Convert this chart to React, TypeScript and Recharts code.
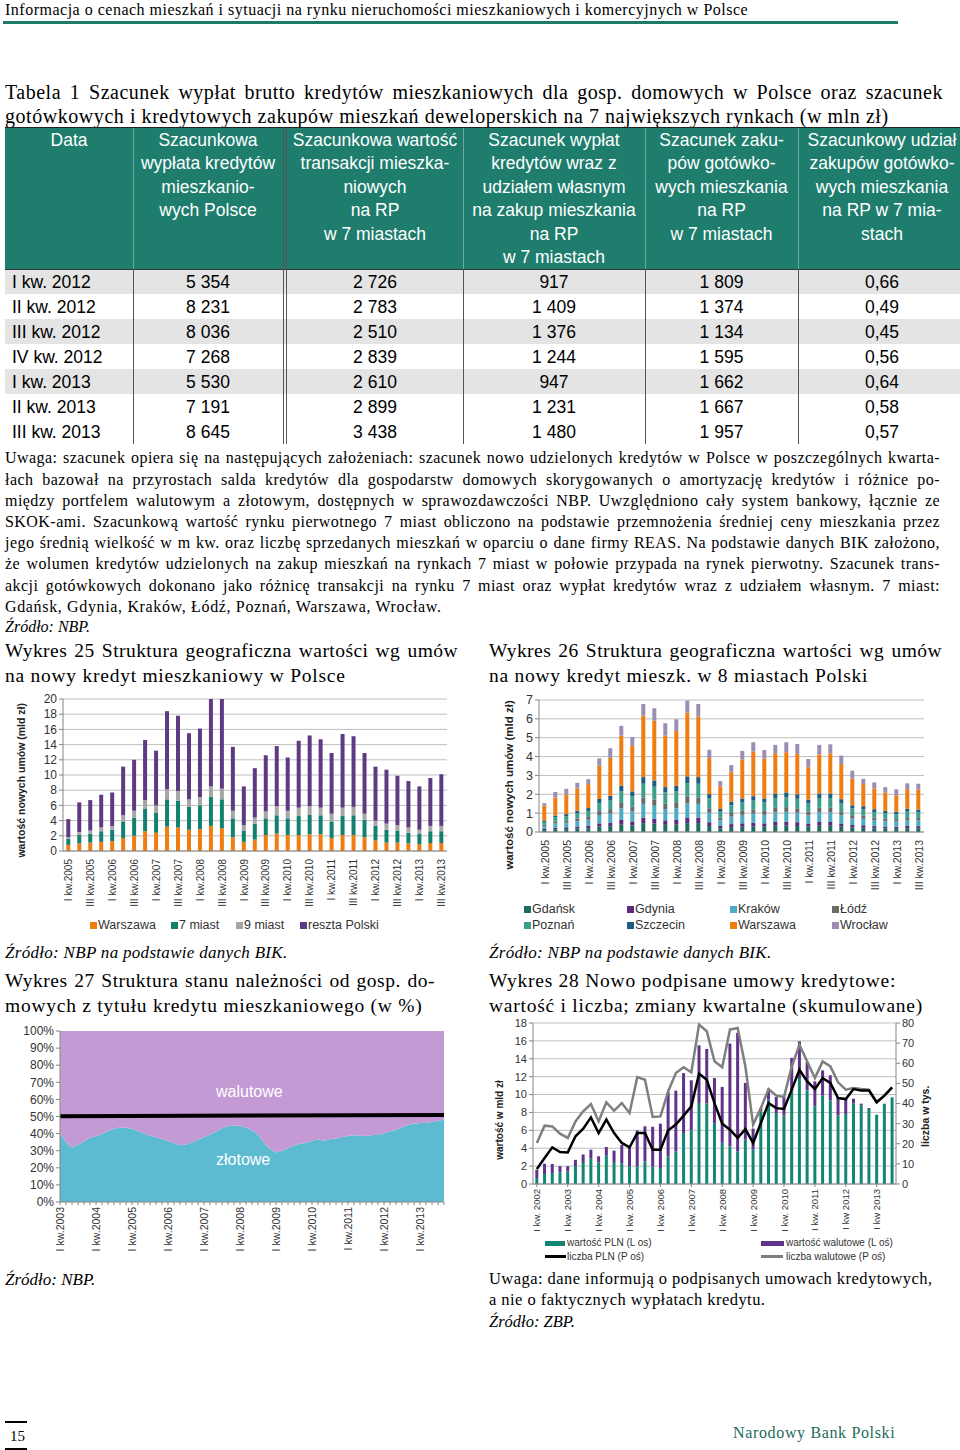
import React from "react"
import {
  BarChart,
  Bar,
  ComposedChart,
  Area,
  Line,
  XAxis,
  YAxis,
  CartesianGrid,
} from "recharts"

const SANS = "'Liberation Sans', Arial, sans-serif"
const NARROW = "'Liberation Sans Narrow', 'Liberation Sans', Arial, sans-serif"
const SERIF = "'Liberation Serif', 'Times New Roman', serif"
const OS = "#868686"
const SIATKA = "#BFBFBF"

// ---------- Tabela 1 ----------
const tabelaOkresy = ["I kw. 2012", "II kw. 2012", "III kw. 2012", "IV kw. 2012", "I kw. 2013", "II kw. 2013", "III kw. 2013"]
const wyplataPolska = ["5 354", "8 231", "8 036", "7 268", "5 530", "7 191", "8 645"]
const wartoscRP = ["2 726", "2 783", "2 510", "2 839", "2 610", "2 899", "3 438"]
const wyplataRP = ["917", "1 409", "1 376", "1 244", "947", "1 231", "1 480"]
const gotowkaRP = ["1 809", "1 374", "1 134", "1 595", "1 662", "1 667", "1 957"]
const udzialGotowki = ["0,66", "0,49", "0,45", "0,56", "0,64", "0,58", "0,57"]

// ---------- Wykres 25 (mld zł, I kw.2005 - III kw.2013) ----------
const warszawa25 = [0.8, 1.0, 1.1, 1.2, 1.3, 1.7, 2.0, 2.6, 2.4, 3.2, 3.1, 2.8, 2.9, 3.3, 3.0, 1.8, 1.2, 1.5, 2.1, 2.3, 2.1, 2.1, 2.2, 2.2, 1.7, 2.1, 2.1, 1.8, 1.4, 1.1, 1.1, 1.0, 0.9, 1.05, 1.05]
const siedemMiast25 = [0.8, 1.1, 1.2, 1.4, 1.5, 2.2, 2.4, 3.0, 2.6, 3.6, 3.5, 3.0, 3.1, 3.8, 3.8, 2.5, 1.5, 2.1, 2.2, 2.4, 2.2, 2.5, 2.6, 2.5, 2.2, 2.5, 2.6, 2.3, 1.9, 1.7, 1.6, 1.4, 1.4, 1.55, 1.55]
const dziewiecMiast25 = [0.2, 0.4, 0.4, 0.5, 0.5, 0.8, 0.9, 1.1, 1.0, 1.3, 1.3, 1.0, 1.1, 1.4, 1.4, 1.0, 0.7, 0.8, 0.9, 1.2, 1.0, 1.1, 1.1, 1.0, 1.0, 1.1, 1.1, 0.8, 0.7, 0.8, 0.7, 0.7, 0.5, 0.7, 0.7]
const resztaPolski25 = [2.4, 3.9, 4.0, 4.3, 4.4, 6.4, 6.7, 7.9, 7.2, 10.3, 9.9, 8.7, 9.0, 13.0, 13.3, 8.4, 5.1, 6.5, 7.4, 7.9, 7.0, 8.8, 9.3, 9.0, 8.0, 9.7, 9.3, 8.0, 7.1, 7.1, 6.5, 6.1, 5.7, 6.3, 6.8]
const osY25 = [0, 2, 4, 6, 8, 10, 12, 14, 16, 18, 20]

// ---------- Wykres 26 (mld zł, 8 miast) ----------
const gdansk26 = [0.10, 0.14, 0.15, 0.18, 0.20, 0.28, 0.31, 0.39, 0.34, 0.47, 0.44, 0.38, 0.39, 0.47, 0.47, 0.32, 0.20, 0.26, 0.28, 0.30, 0.28, 0.33, 0.34, 0.32, 0.28, 0.33, 0.33, 0.28, 0.23, 0.22, 0.19, 0.18, 0.17, 0.20, 0.19]
const gdynia26 = [0.06, 0.09, 0.10, 0.11, 0.13, 0.18, 0.19, 0.25, 0.22, 0.29, 0.27, 0.24, 0.25, 0.30, 0.29, 0.20, 0.12, 0.16, 0.18, 0.19, 0.18, 0.20, 0.21, 0.20, 0.17, 0.20, 0.20, 0.17, 0.14, 0.14, 0.12, 0.11, 0.11, 0.12, 0.12]
const krakow26 = [0.15, 0.22, 0.24, 0.28, 0.32, 0.44, 0.48, 0.61, 0.54, 0.73, 0.68, 0.60, 0.61, 0.74, 0.73, 0.50, 0.30, 0.40, 0.45, 0.48, 0.45, 0.51, 0.52, 0.50, 0.43, 0.51, 0.51, 0.44, 0.35, 0.34, 0.30, 0.28, 0.27, 0.31, 0.30]
const lodz26 = [0.07, 0.11, 0.11, 0.14, 0.15, 0.21, 0.23, 0.29, 0.26, 0.35, 0.33, 0.28, 0.29, 0.35, 0.35, 0.24, 0.15, 0.19, 0.21, 0.23, 0.21, 0.24, 0.25, 0.24, 0.21, 0.24, 0.24, 0.21, 0.17, 0.16, 0.15, 0.13, 0.13, 0.15, 0.14]
const poznan26 = [0.15, 0.22, 0.24, 0.28, 0.32, 0.43, 0.48, 0.62, 0.53, 0.72, 0.68, 0.60, 0.62, 0.74, 0.72, 0.51, 0.31, 0.40, 0.45, 0.47, 0.45, 0.52, 0.53, 0.50, 0.42, 0.52, 0.52, 0.43, 0.36, 0.35, 0.30, 0.29, 0.26, 0.30, 0.30]
const szczecin26 = [0.07, 0.10, 0.11, 0.14, 0.15, 0.21, 0.23, 0.29, 0.26, 0.35, 0.33, 0.28, 0.29, 0.35, 0.35, 0.24, 0.14, 0.19, 0.21, 0.23, 0.21, 0.24, 0.25, 0.24, 0.21, 0.24, 0.24, 0.21, 0.17, 0.16, 0.15, 0.13, 0.13, 0.15, 0.14]
const warszawa26 = [0.80, 0.95, 1.05, 1.18, 1.27, 1.78, 2.01, 2.66, 2.42, 3.26, 3.18, 2.73, 2.91, 3.38, 3.21, 1.91, 1.20, 1.60, 2.07, 2.36, 2.12, 2.10, 2.13, 2.14, 1.71, 2.08, 2.13, 1.86, 1.42, 1.17, 1.10, 0.98, 0.88, 1.04, 1.07]
const wroclaw26 = [0.13, 0.29, 0.29, 0.30, 0.26, 0.37, 0.51, 0.52, 0.47, 0.62, 0.65, 0.66, 0.62, 0.64, 0.67, 0.44, 0.28, 0.35, 0.45, 0.50, 0.45, 0.48, 0.53, 0.53, 0.44, 0.50, 0.48, 0.45, 0.41, 0.28, 0.32, 0.28, 0.31, 0.31, 0.30]
const osY26 = [0, 1, 2, 3, 4, 5, 6, 7]

// ---------- Wykres 27 (udział złotowych w %, co dwa miesiące 2003-2013) ----------
const zlotowe27 = [40.5, 35, 31.8, 33.5, 35.5, 37.5, 38.6, 39.8, 41.5, 42.8, 43.5, 43.4, 42.8, 41.5, 40, 38.8, 37.8, 36.8, 35.7, 34.5, 33.2, 33.6, 35, 36.4, 37.8, 39.5, 41.3, 43.2, 44.3, 44.8, 44.4, 43.5, 42, 39.5, 34.5, 31, 29, 30, 31.5, 33, 34, 34.7, 35.8, 36.6, 35.8, 36.8, 37.2, 38, 38.6, 39, 38.8, 38.6, 39.2, 39.2, 40.3, 41.3, 42.3, 43.7, 45, 45.8, 46.2, 46.4, 46.8, 47.4, 48.2]
const linia50Poczatek27 = 50.2
const linia50Koniec27 = 50.9
const osY27 = [0, 10, 20, 30, 40, 50, 60, 70, 80, 90, 100]

// ---------- Wykres 28 (I kw. 2002 - III kw. 2013) ----------
const wartoscPln28 = [0.67, 1.12, 1.23, 1.3, 1.4, 2.0, 2.35, 2.83, 2.42, 3.17, 2.46, 2.27, 2.0, 1.98, 2.53, 1.98, 1.79, 3.1, 3.65, 5.7, 6.0, 9.06, 9.0, 6.75, 4.6, 4.2, 3.65, 4.96, 3.9, 8.1, 9.43, 7.94, 7.64, 10.36, 11.85, 10.47, 8.68, 9.88, 9.35, 7.64, 7.83, 8.98, 8.8, 8.39, 7.75, 8.98, 9.69]
const wartoscWal28 = [0.93, 1.15, 1.01, 0.7, 0.6, 0.7, 0.95, 1.01, 0.68, 0.97, 1.27, 2.09, 2.1, 4.02, 3.92, 4.42, 4.96, 7.15, 6.79, 6.7, 5.6, 6.44, 6.1, 5.1, 6.25, 11.5, 13.25, 6.34, 2.3, 0.4, 1.23, 1.79, 2.09, 3.74, 4.1, 3.17, 2.8, 2.82, 2.8, 2.09, 1.79, 0.56, 0.18, 0.11, 0, 0, 0]
const liczbaPln28 = [7.5, 12.9, 18.2, 15.9, 15.7, 23.7, 27.5, 33.1, 25.3, 32, 25.3, 20.4, 18.2, 25.3, 25.3, 17, 17, 26.7, 29.5, 34, 38.6, 54.8, 51.8, 40.2, 30, 27, 22.9, 27.3, 20.4, 30.3, 40.2, 37.7, 37.3, 46.9, 56.8, 51, 47.2, 52.6, 50.2, 42.7, 42.2, 47.2, 46.4, 46.4, 40.6, 43.9, 48]
const liczbaWal28 = [20.4, 29, 28.6, 25, 22.9, 31.1, 36.1, 39.7, 31.1, 40.6, 36.4, 40.2, 35.3, 53.1, 51.8, 33.3, 33.6, 46, 55.1, 58, 55.5, 79.2, 75.9, 61, 58, 76.7, 77.5, 58.4, 29.5, 37.7, 47.2, 43.9, 43.2, 58.4, 69.2, 60.9, 52.6, 60.9, 58.4, 50.5, 46.9, 47.7, 47.2, 46.9, 40.6, 43.9, 48]
const lata28 = ["I kw. 2002", "I kw. 2003", "I kw. 2004", "I kw. 2005", "I kw. 2006", "I kw. 2007", "I kw. 2008", "I kw. 2009", "I kw. 2010", "I kw. 2011", "I kw 2012", "I kw 2013"]
const osL28 = [0, 2, 4, 6, 8, 10, 12, 14, 16, 18]
const osP28 = [0, 10, 20, 30, 40, 50, 60, 70, 80]

const RZ = ["I", "II", "III", "IV"]
function kwartaly(rokOd: number, ile: number, sep: string) {
  return Array.from({ length: ile }, (_, i) => `${RZ[i % 4]} kw${sep}${rokOd + Math.floor(i / 4)}`)
}

const dane25 = kwartaly(2005, 35, ".").map((k, i) => ({
  k,
  w: warszawa25[i],
  m7: siedemMiast25[i],
  m9: dziewiecMiast25[i],
  r: resztaPolski25[i],
}))

const miasta26 = [
  { key: "gdansk", name: "Gdańsk", color: "#1B6E5E", vals: gdansk26 },
  { key: "gdynia", name: "Gdynia", color: "#5B2C7E", vals: gdynia26 },
  { key: "krakow", name: "Kraków", color: "#4BACC6", vals: krakow26 },
  { key: "lodz", name: "Łódź", color: "#6A6A6A", vals: lodz26 },
  { key: "poznan", name: "Poznań", color: "#3C9E8B", vals: poznan26 },
  { key: "szczecin", name: "Szczecin", color: "#1D5D84", vals: szczecin26 },
  { key: "warszawa", name: "Warszawa", color: "#F07D12", vals: warszawa26 },
  { key: "wroclaw", name: "Wrocław", color: "#9C8DB4", vals: wroclaw26 },
]
const dane26 = kwartaly(2005, 35, ".").map((k, i) => {
  const row: Record<string, any> = { k }
  miasta26.forEach((m) => (row[m.key] = m.vals[i]))
  return row
})

const dane27 = zlotowe27.map((z, i) => ({
  k: `${2003 + Math.floor(i / 6)}-${i % 6}`,
  z,
  w: +(100 - z).toFixed(1), // walutowe = reszta do 100%
  g: i === 0 ? linia50Poczatek27 : i === zlotowe27.length - 1 ? linia50Koniec27 : null,
}))

const dane28 = kwartaly(2002, 47, ". ").map((k, i) => ({
  k,
  pln: wartoscPln28[i],
  wal: wartoscWal28[i],
  lp: liczbaPln28[i],
  lw: liczbaWal28[i],
}))

function RotTick({ x, y, text, size }: { x: number; y: number; text: string | null; size: number }) {
  if (!text) return null
  return (
    <text
      x={x}
      y={y}
      transform={`rotate(-90 ${x} ${y})`}
      textAnchor="end"
      dominantBaseline="central"
      fontSize={size}
      fontFamily={SANS}
      fill="#333"
    >
      {text}
    </text>
  )
}

function T({
  x, y, size, children, font = SERIF, width, justify, ls = 0, style,
}: {
  x: number; y: number; size: number; children: React.ReactNode; font?: string
  width?: number; justify?: boolean; ls?: number; style?: React.CSSProperties
}) {
  return (
    <div
      style={{
        position: "absolute",
        left: x,
        top: y - size * 0.6,
        width,
        fontSize: size,
        lineHeight: `${size * 1.2}px`,
        fontFamily: font,
        letterSpacing: ls,
        whiteSpace: "nowrap",
        textAlign: justify ? "justify" : "left",
        textAlignLast: justify ? "justify" : "auto",
        color: "#000",
        ...style,
      }}
    >
      {children}
    </div>
  )
}

function Sw({ x, y, color, w = 7, h = 7 }: { x: number; y: number; color: string; w?: number; h?: number }) {
  return <div style={{ position: "absolute", left: x, top: y - h / 2, width: w, height: h, background: color }} />
}

const kolumny = [
  { x0: 5, x1: 133, naglowek: ["Data"], vals: tabelaOkresy, left: true },
  { x0: 133, x1: 283, naglowek: ["Szacunkowa", "wypłata kredytów", "mieszkanio-", "wych Polsce"], vals: wyplataPolska },
  { x0: 287, x1: 463, naglowek: ["Szacunkowa wartość", "transakcji mieszka-", "niowych", "na RP", "w 7 miastach"], vals: wartoscRP },
  { x0: 463, x1: 645, naglowek: ["Szacunek wypłat", "kredytów wraz z", "udziałem własnym", "na zakup mieszkania", "na RP", "w 7 miastach"], vals: wyplataRP },
  { x0: 645, x1: 798, naglowek: ["Szacunek zaku-", "pów gotówko-", "wych mieszkania", "na RP", "w 7 miastach"], vals: gotowkaRP },
  { x0: 798, x1: 966, naglowek: ["Szacunkowy udział", "zakupów gotówko-", "wych mieszkania", "na RP w 7 mia-", "stach"], vals: udzialGotowki },
]

function Tabela() {
  const hTop = 128
  const bTop = 269
  const rowH = 25
  return (
    <div style={{ position: "absolute", left: 0, top: 0, width: 960, height: 450, overflow: "hidden" }}>
      <div style={{ position: "absolute", left: 5, top: hTop, width: 960, height: bTop - hTop, background: "#1E7D6D" }} />
      <div style={{ position: "absolute", left: 5, top: hTop - 1, width: 960, height: 1, background: "#222" }} />
      {tabelaOkresy.map((_, r) => (
        <div
          key={r}
          style={{
            position: "absolute", left: 5, top: bTop + r * rowH, width: 960, height: rowH,
            background: r % 2 === 0 && r < 6 ? "#E4E4E4" : "#fff",
          }}
        />
      ))}
      <div style={{ position: "absolute", left: 5, top: bTop, width: 960, height: 1, background: "#333" }} />
      {[133, 463, 645, 798].map((x) => (
        <React.Fragment key={x}>
          <div style={{ position: "absolute", left: x, top: hTop, width: 1, height: bTop - hTop, background: "rgba(255,255,255,0.35)" }} />
          <div style={{ position: "absolute", left: x, top: bTop, width: 1, height: rowH * 7, background: "#555" }} />
        </React.Fragment>
      ))}
      {[283, 286].map((x) => (
        <div key={x} style={{ position: "absolute", left: x, top: hTop, width: 1, height: bTop - hTop + rowH * 7, background: "#555" }} />
      ))}
      {kolumny.map((c, ci) => (
        <React.Fragment key={ci}>
          {c.naglowek.map((t, li) => (
            <div
              key={li}
              style={{
                position: "absolute", left: c.x0, width: c.x1 - c.x0, top: 140 + li * 23.4 - 11,
                height: 22, lineHeight: "22px", textAlign: "center", color: "#fff",
                fontFamily: NARROW, fontSize: 17.5, whiteSpace: "nowrap",
              }}
            >
              {t}
            </div>
          ))}
          {c.vals.map((v, r) => (
            <div
              key={r}
              style={{
                position: "absolute", left: c.left ? c.x0 + 7 : c.x0, width: c.left ? undefined : c.x1 - c.x0,
                top: bTop + r * rowH + 1, height: rowH, lineHeight: `${rowH}px`,
                textAlign: c.left ? "left" : "center", fontFamily: NARROW, fontSize: 17.5, color: "#000",
                whiteSpace: "nowrap",
              }}
            >
              {v}
            </div>
          ))}
        </React.Fragment>
      ))}
    </div>
  )
}

const uwagaLinie = [
  "Uwaga: szacunek opiera się na następujących założeniach: szacunek nowo udzielonych kredytów w Polsce w poszczególnych kwarta-",
  "łach bazował na przyrostach salda kredytów dla gospodarstw domowych skorygowanych o amortyzację kredytów i różnice po-",
  "między portfelem walutowym a złotowym, dostępnych w sprawozdawczości NBP. Uwzględniono cały system bankowy, łącznie ze",
  "SKOK-ami. Szacunkową wartość rynku pierwotnego 7 miast obliczono na podstawie przemnożenia średniej ceny mieszkania przez",
  "jego średnią wielkość w m kw. oraz liczbę sprzedanych mieszkań w oparciu o dane firmy REAS. Na podstawie danych BIK założono,",
  "że wolumen kredytów udzielonych na zakup mieszkań na rynkach 7 miast w połowie przypada na rynek pierwotny. Szacunek trans-",
  "akcji gotówkowych dokonano jako różnicę transakcji na rynku 7 miast oraz wypłat kredytów wraz z udziałem własnym. 7 miast:",
  "Gdańsk, Gdynia, Kraków, Łódź, Poznań, Warszawa, Wrocław.",
]

const yTick = (size: number) => ({ fontSize: size, fill: "#333", fontFamily: SANS })

function Wykres25() {
  return (
    <div style={{ position: "absolute", left: 0, top: 690 }}>
      <BarChart width={460} height={228} data={dane25} margin={{ top: 9, right: 13, bottom: 0, left: 0 }} barCategoryGap="30%">
        <CartesianGrid vertical={false} stroke={SIATKA} />
        <XAxis
          dataKey="k"
          interval={1}
          height={67}
          tickLine={false}
          axisLine={{ stroke: OS }}
          tick={(p: any) => <RotTick x={p.x} y={p.y} text={p.payload.value} size={10} />}
        />
        <YAxis
          width={63}
          domain={[0, 20]}
          ticks={osY25}
          interval={0}
          allowDataOverflow
          tickSize={4}
          axisLine={{ stroke: OS }}
          tickLine={{ stroke: OS }}
          tick={yTick(12)}
        />
        <Bar dataKey="w" stackId="a" fill="#F07D12" isAnimationActive={false} />
        <Bar dataKey="m7" stackId="a" fill="#13806F" isAnimationActive={false} />
        <Bar dataKey="m9" stackId="a" fill="#A6A6A6" isAnimationActive={false} />
        <Bar dataKey="r" stackId="a" fill="#5E3A82" isAnimationActive={false} />
      </BarChart>
    </div>
  )
}

function Wykres26() {
  return (
    <div style={{ position: "absolute", left: 490, top: 690 }}>
      <BarChart width={460} height={210} data={dane26} margin={{ top: 10, right: 26, bottom: 0, left: 0 }} barCategoryGap="30%">
        <CartesianGrid vertical={false} stroke={SIATKA} />
        <XAxis
          dataKey="k"
          interval={1}
          height={68}
          tickLine={false}
          axisLine={{ stroke: OS }}
          tick={(p: any) => <RotTick x={p.x} y={p.y} text={p.payload.value} size={10.5} />}
        />
        <YAxis
          width={49}
          domain={[0, 7]}
          ticks={osY26}
          interval={0}
          tickSize={4}
          axisLine={{ stroke: OS }}
          tickLine={{ stroke: OS }}
          tick={yTick(12.5)}
        />
        {miasta26.map((m) => (
          <Bar key={m.key} dataKey={m.key} stackId="a" fill={m.color} isAnimationActive={false} />
        ))}
      </BarChart>
    </div>
  )
}

function Wykres27() {
  return (
    <div style={{ position: "absolute", left: 0, top: 1020 }}>
      <ComposedChart width={460} height={250} data={dane27} margin={{ top: 11, right: 16, bottom: 0, left: 0 }}>
        <XAxis
          dataKey="k"
          interval={0}
          height={68}
          tickSize={3}
          tickLine={{ stroke: OS }}
          axisLine={{ stroke: OS }}
          tick={(p: any) => {
            const v: string = p.payload.value
            const txt = v.endsWith("-0") ? `I kw.${v.slice(0, 4)}` : null
            return <RotTick x={p.x} y={p.y} text={txt} size={10.5} />
          }}
        />
        <YAxis
          width={60}
          domain={[0, 100]}
          ticks={osY27}
          interval={0}
          tickFormatter={(v: number) => `${v}%`}
          tickSize={4}
          axisLine={{ stroke: OS }}
          tickLine={{ stroke: OS }}
          tick={yTick(12)}
        />
        <Area type="linear" dataKey="z" stackId="s" fill="#5DBBD1" fillOpacity={1} stroke="none" isAnimationActive={false} />
        <Area type="linear" dataKey="w" stackId="s" fill="#C49AD5" fillOpacity={1} stroke="none" isAnimationActive={false} />
        <Line type="linear" dataKey="g" stroke="#000" strokeWidth={4} dot={false} connectNulls isAnimationActive={false} />
      </ComposedChart>
    </div>
  )
}

function Wykres28() {
  return (
    <div style={{ position: "absolute", left: 490, top: 1010 }}>
      <ComposedChart width={470} height={228} data={dane28} margin={{ top: 13, right: 24, bottom: 0, left: 0 }} barCategoryGap="30%">
        <CartesianGrid vertical={false} stroke={SIATKA} yAxisId="L" />
        <XAxis
          dataKey="k"
          interval={3}
          height={54}
          tickSize={3}
          tickLine={{ stroke: OS }}
          axisLine={{ stroke: OS }}
          tick={(p: any) => {
            const v: string = p.payload.value
            const idx = +v.slice(-4) - 2002
            return <RotTick x={p.x} y={p.y} text={lata28[idx] ?? null} size={9.5} />
          }}
        />
        <YAxis
          yAxisId="L"
          width={43}
          domain={[0, 18]}
          ticks={osL28}
          interval={0}
          tickSize={4}
          axisLine={{ stroke: OS }}
          tickLine={{ stroke: OS }}
          tick={yTick(11)}
        />
        <YAxis
          yAxisId="P"
          orientation="right"
          width={40}
          domain={[0, 80]}
          ticks={osP28}
          interval={0}
          tickSize={4}
          axisLine={{ stroke: OS }}
          tickLine={{ stroke: OS }}
          tick={yTick(11)}
        />
        <Bar yAxisId="L" dataKey="pln" stackId="b" fill="#138673" isAnimationActive={false} />
        <Bar yAxisId="L" dataKey="wal" stackId="b" fill="#60338A" isAnimationActive={false} />
        <Line yAxisId="P" type="linear" dataKey="lw" stroke="#7F7F7F" strokeWidth={2.5} dot={false} isAnimationActive={false} />
        <Line yAxisId="P" type="linear" dataKey="lp" stroke="#000" strokeWidth={2.5} dot={false} isAnimationActive={false} />
      </ComposedChart>
    </div>
  )
}

function RotLabel({ cx, cy, size, children }: { cx: number; cy: number; size: number; children: React.ReactNode }) {
  return (
    <div
      style={{
        position: "absolute", left: cx - 150, top: cy - size * 0.6, width: 300, textAlign: "center",
        fontFamily: SANS, fontWeight: 700, fontSize: size, lineHeight: `${size * 1.2}px`,
        transform: "rotate(-90deg)", whiteSpace: "nowrap", color: "#222",
      }}
    >
      {children}
    </div>
  )
}

export default function App() {
  const legTxt: React.CSSProperties = { fontFamily: SANS, color: "#333" }
  const tyt = 0.75
  return (
    <div style={{ position: "relative", width: 960, height: 1450, background: "#fff", overflow: "hidden" }}>
      <style>{"body{margin:0}"}</style>

      <T x={5} y={10} size={16} ls={0.5}>
        Informacja o cenach mieszkań i sytuacji na rynku nieruchomości mieszkaniowych i komercyjnych w Polsce
      </T>
      <div style={{ position: "absolute", left: 3, top: 21, width: 895, height: 3, background: "#1D7A69" }} />

      <T x={5} y={92} size={20} ls={0.5} width={938} justify>
        Tabela 1 Szacunek wypłat brutto kredytów mieszkaniowych dla gosp. domowych w Polsce oraz szacunek
      </T>
      <T x={5} y={116} size={20} ls={0.55}>
        gotówkowych i kredytowych zakupów mieszkań deweloperskich na 7 największych rynkach (w mln zł)
      </T>

      <Tabela />

      {uwagaLinie.map((l, i) => (
        <T key={i} x={5} y={458 + i * 21.2} size={16} ls={i < uwagaLinie.length - 1 ? 0.45 : 0.65} width={935} justify={i < uwagaLinie.length - 1}>
          {l}
        </T>
      ))}
      <T x={5} y={627} size={16} style={{ fontStyle: "italic" }}>Źródło: NBP.</T>

      <T x={5} y={651} size={19.5} ls={0.45} width={453} justify>Wykres 25 Struktura geograficzna wartości wg umów</T>
      <T x={5} y={676} size={19.5} ls={tyt}>na nowy kredyt mieszkaniowy w Polsce</T>
      <T x={489} y={651} size={19.5} ls={0.45} width={453} justify>Wykres 26 Struktura geograficzna wartości wg umów</T>
      <T x={489} y={676} size={19.5} ls={tyt}>na nowy kredyt mieszk. w 8 miastach Polski</T>

      <Wykres25 />
      <RotLabel cx={21} cy={780} size={10.5}>wartość nowych umów (mld zł)</RotLabel>
      <Sw x={90} y={925} color="#F07D12" />
      <T x={98} y={925} size={12.5} font={SANS} style={legTxt}>Warszawa</T>
      <Sw x={171} y={925} color="#13806F" />
      <T x={179} y={925} size={12.5} font={SANS} style={legTxt}>7 miast</T>
      <Sw x={236} y={925} color="#A6A6A6" />
      <T x={244} y={925} size={12.5} font={SANS} style={legTxt}>9 miast</T>
      <Sw x={300} y={925} color="#5E3A82" />
      <T x={308} y={925} size={12.5} font={SANS} style={legTxt}>reszta Polski</T>

      <Wykres26 />
      <RotLabel cx={510} cy={785} size={11.5}>wartość nowych umów (mld zł)</RotLabel>
      {miasta26.map((m, i) => {
        const x = [524, 627, 730, 832][i % 4]
        const y = i < 4 ? 909 : 925
        return (
          <React.Fragment key={m.key}>
            <Sw x={x} y={y} color={m.color} />
            <T x={x + 8} y={y} size={12.5} font={SANS} style={legTxt}>{m.name}</T>
          </React.Fragment>
        )
      })}

      <T x={5} y={953} size={17} ls={0.3} style={{ fontStyle: "italic" }}>Źródło: NBP na podstawie danych BIK.</T>
      <T x={489} y={953} size={17} ls={0.3} style={{ fontStyle: "italic" }}>Źródło: NBP na podstawie danych BIK.</T>

      <T x={5} y={981} size={19.5} ls={0.5} width={430} justify>Wykres 27 Struktura stanu należności od gosp. do-</T>
      <T x={5} y={1006} size={19.5} ls={tyt}>mowych z tytułu kredytu mieszkaniowego (w %)</T>
      <T x={489} y={981} size={19.5} ls={tyt}>Wykres 28 Nowo podpisane umowy kredytowe:</T>
      <T x={489} y={1006} size={19.5} ls={tyt}>wartość i liczba; zmiany kwartalne (skumulowane)</T>

      <Wykres27 />
      <T x={216} y={1092} size={16} font={SANS} style={{ color: "#fff" }}>walutowe</T>
      <T x={216} y={1160} size={16} font={SANS} style={{ color: "#fff" }}>złotowe</T>

      <Wykres28 />
      <RotLabel cx={500} cy={1120} size={10}>wartość w mld zł</RotLabel>
      <RotLabel cx={925} cy={1116} size={10.5}>liczba w tys.</RotLabel>
      <Sw x={545} y={1243} color="#138673" w={20} h={5} />
      <T x={567} y={1243} size={10} font={SANS} style={legTxt}>wartość PLN (L os)</T>
      <Sw x={761} y={1243} color="#60338A" w={23} h={5} />
      <T x={786} y={1243} size={10} font={SANS} style={legTxt}>wartość walutowe (L oś)</T>
      <Sw x={545} y={1256.5} color="#000" w={21} h={2.5} />
      <T x={567} y={1256.5} size={10} font={SANS} style={legTxt}>liczba PLN (P oś)</T>
      <Sw x={761} y={1256.5} color="#7F7F7F" w={22} h={2.5} />
      <T x={786} y={1256.5} size={10} font={SANS} style={legTxt}>liczba walutowe (P oś)</T>

      <T x={5} y={1280} size={17} style={{ fontStyle: "italic" }}>Źródło: NBP.</T>
      <T x={489} y={1279} size={16.5} ls={0.45}>Uwaga: dane informują o podpisanych umowach kredytowych,</T>
      <T x={489} y={1300} size={16.5} ls={0.45}>a nie o faktycznych wypłatach kredytu.</T>
      <T x={489} y={1322} size={16.5} style={{ fontStyle: "italic" }}>Źródło: ZBP.</T>

      <div style={{ position: "absolute", left: 5, top: 1421, width: 22, height: 1.5, background: "#000" }} />
      <T x={10} y={1436} size={15}>15</T>
      <div style={{ position: "absolute", left: 5, top: 1448, width: 22, height: 1.5, background: "#000" }} />
      <T x={733} y={1433} size={16} ls={0.65} style={{ color: "#1D6B5C" }}>Narodowy Bank Polski</T>
    </div>
  )
}
